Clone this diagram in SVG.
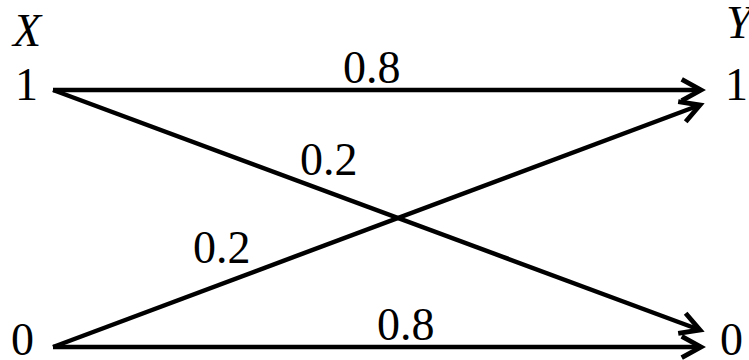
<svg xmlns="http://www.w3.org/2000/svg" width="749" height="360" viewBox="0 0 749 360">
<defs>
<style>
text{font-family:"Liberation Serif","Times New Roman",serif;font-size:46px;fill:#000}
.v{font-style:italic}
.e{stroke:#000;stroke-width:4.5;fill:none}
</style>
<marker id="ah" markerUnits="userSpaceOnUse" markerWidth="30" markerHeight="30" viewBox="-22 -14 26 28" refX="0" refY="0" orient="auto" overflow="visible">
<path d="M-18,-10 L0,0 L-18,10" fill="none" stroke="#000" stroke-width="4.5" stroke-linejoin="miter"/>
</marker>
</defs>
<rect width="749" height="360" fill="#fff"/>
<g id="labels-axes">
<text class="v" x="13" y="46" font-family="Liberation Serif, serif">X</text>
<text class="v" x="726" y="38" font-family="Liberation Serif, serif">Y</text>
</g>
<g id="x1"><text x="15" y="100" font-family="Liberation Serif, serif">1</text></g>
<g id="x0"><text x="11" y="355" font-family="Liberation Serif, serif">0</text></g>
<g id="y1"><text x="725" y="100" font-family="Liberation Serif, serif">1</text></g>
<g id="y0"><text x="720" y="355" font-family="Liberation Serif, serif">0</text></g>
<g id="connectors">
<line class="e" x1="53" y1="90" x2="701" y2="90" marker-end="url(#ah)"/>
<line class="e" x1="53" y1="90" x2="700" y2="330" marker-end="url(#ah)"/>
<line class="e" x1="53" y1="347" x2="700" y2="105" marker-end="url(#ah)"/>
<line class="e" x1="53" y1="347" x2="701" y2="347" marker-end="url(#ah)"/>
<text x="343" y="83" font-family="Liberation Serif, serif">0.8</text>
<text x="300" y="175" font-family="Liberation Serif, serif">0.2</text>
<text x="193" y="263" font-family="Liberation Serif, serif">0.2</text>
<text x="377" y="340" font-family="Liberation Serif, serif">0.8</text>
</g>
</svg>
